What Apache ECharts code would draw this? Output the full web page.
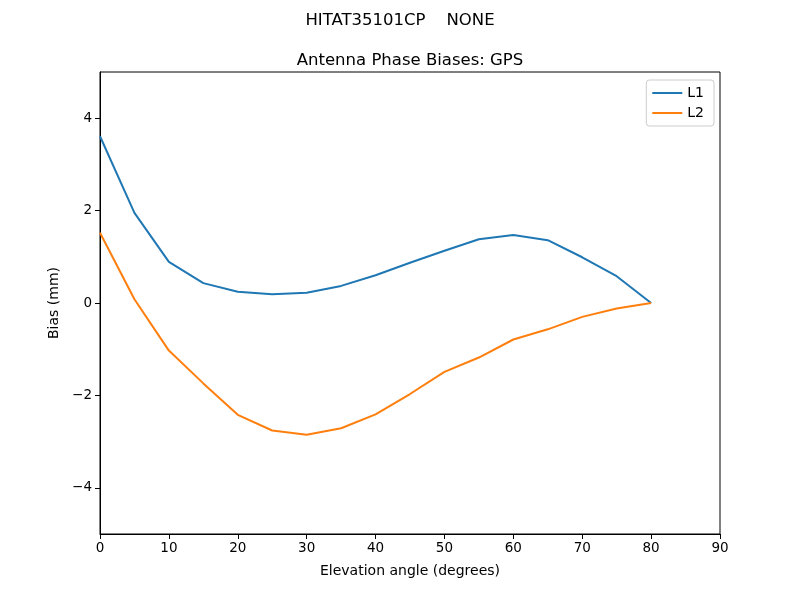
<!DOCTYPE html>
<html><head><meta charset="utf-8">
<script src="https://cdn.jsdelivr.net/npm/echarts@6/dist/echarts.min.js"></script>
<style>html,body{margin:0;padding:0;background:#fff}#c{width:800px;height:600px}</style>
</head><body><div id="c"></div>
<script>
const elevation = [0,5,10,15,20,25,30,35,40,45,50,55,60,65,70,75,80];
const l1 = [3.61,1.95,0.89,0.43,0.245,0.19,0.22,0.37,0.6,0.87,1.13,1.38,1.47,1.36,0.99,0.58,0.0];
const l2 = [1.52,0.08,-1.03,-1.74,-2.42,-2.76,-2.85,-2.71,-2.41,-1.97,-1.49,-1.18,-0.79,-0.57,-0.30,-0.12,0.0];
const yTicks = [-4,-2,0,2,4];
const fmt = v => String(v).replace('-', '\u2212');
const font = 'DejaVu Sans';
const chart = echarts.init(document.getElementById('c'), null, {renderer:'canvas'});
chart.setOption({
  animation:false,
  backgroundColor:'#fff',
  textStyle:{fontFamily:font},
  title:[
    {text:'HITAT35101CP    NONE', left:395, top:7, textAlign:'center', textStyle:{fontFamily:font,fontSize:16.5,fontWeight:'normal',color:'#000'}},
    {text:'Antenna Phase Biases: GPS', left:405, top:47, textAlign:'center', textStyle:{fontFamily:font,fontSize:16.5,fontWeight:'normal',color:'#000'}}
  ],
  legend:{
    right:86, top:80, orient:'vertical', itemGap:6, itemWidth:30, itemHeight:2, icon:'rect',
    borderColor:'#ccc', borderWidth:1, borderRadius:3, padding:[6,10,6,6],
    textStyle:{fontFamily:font,fontSize:14,color:'#000'},
    data:['L1','L2']
  },
  grid:{left:100, right:80, top:72, bottom:66, show:true, borderColor:'#000', borderWidth:1, containLabel:false},
  xAxis:{
    type:'value', min:0, max:90, interval:10,
    name:'Elevation angle (degrees)', nameLocation:'middle', nameGap:30,
    nameTextStyle:{fontFamily:font,fontSize:14,color:'#000'},
    axisLine:{show:true,onZero:false,lineStyle:{color:'#000'}},
    axisTick:{show:true,length:5,lineStyle:{color:'#000'}},
    axisLabel:{color:'#000',fontFamily:font,fontSize:13.5,margin:7,formatter:fmt},
    splitLine:{show:false}
  },
  yAxis:{
    type:'value', min:-5, max:5,
    name:'Bias (mm)', nameLocation:'middle', nameGap:34, nameRotate:90,
    nameTextStyle:{fontFamily:font,fontSize:14,color:'#000'},
    axisLine:{show:true,onZero:false,lineStyle:{color:'#000'}},
    axisTick:{show:true,length:5,lineStyle:{color:'#000'},customValues:yTicks},
    axisLabel:{color:'#000',fontFamily:font,fontSize:13.5,margin:8,customValues:yTicks,formatter:fmt},
    splitLine:{show:false}
  },
  series:[
    {name:'L1', type:'line', data:elevation.map((x,i)=>[x,l1[i]]), showSymbol:false, symbol:'none', lineStyle:{width:2,color:'#1f77b4'}, itemStyle:{color:'#1f77b4'}},
    {name:'L2', type:'line', data:elevation.map((x,i)=>[x,l2[i]]), showSymbol:false, symbol:'none', lineStyle:{width:2,color:'#ff7f0e'}, itemStyle:{color:'#ff7f0e'}}
  ]
});
</script></body></html>
